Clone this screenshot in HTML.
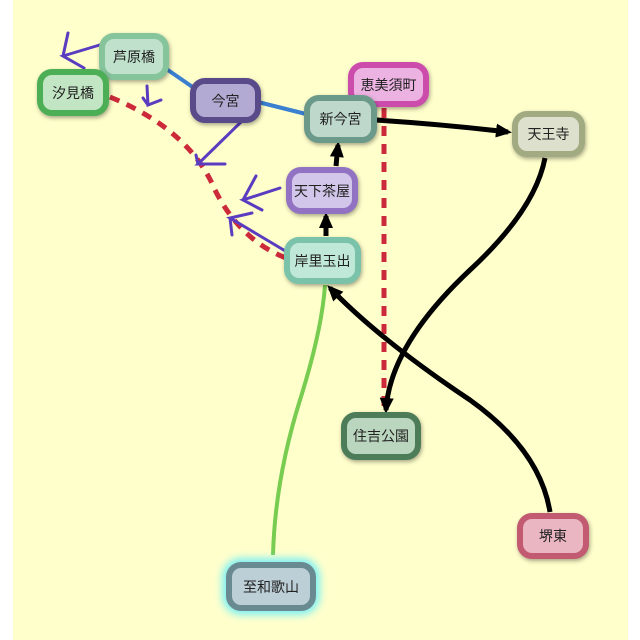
<!DOCTYPE html>
<html><head><meta charset="utf-8"><style>
html,body{margin:0;padding:0;background:#fff;}
#c{position:relative;width:640px;height:640px;overflow:hidden;background:#fff;}
.bg{position:absolute;left:13px;top:0;width:615px;height:640px;background:#ffffcc;}
.n{position:absolute;box-sizing:border-box;border:6px solid;border-radius:15px;display:flex;align-items:center;justify-content:center;font-family:"Liberation Sans","Noto Sans CJK JP",sans-serif;font-size:14px;white-space:nowrap;color:#222;box-shadow:1px 2px 4px rgba(0,0,0,0.35);}
svg{position:absolute;left:0;top:0;}
</style></head><body><div id="c">
<div class="bg"></div>
<svg width="640" height="640">
<defs><marker id="a" markerUnits="userSpaceOnUse" markerWidth="16" markerHeight="16" refX="12" refY="8" orient="auto"><path d="M0,1L16,8L0,15z" fill="#000"/></marker></defs>
<path d="M165,68L194,88" stroke="#3a7fd0" stroke-width="4" fill="none"/>
<path d="M258,102L306,114" stroke="#3a7fd0" stroke-width="4" fill="none"/>
<path d="M384,108L384,410" stroke="#cc2a3a" stroke-width="5" stroke-dasharray="10,8" fill="none"/>
<path d="M110,97Q190,130 215,190Q240,240 286,258" stroke="#cc2a3a" stroke-width="5" stroke-dasharray="10,8" fill="none"/>
<path d="M376,120Q440,124 508,132" stroke="#000" stroke-width="5" fill="none" marker-end="url(#a)"/>
<path d="M545,158Q535,210 470,270Q390,345 386,410" stroke="#000" stroke-width="5" fill="none" marker-end="url(#a)"/>
<path d="M550,512Q540,450 470,400Q380,340 330,288" stroke="#000" stroke-width="5" fill="none" marker-end="url(#a)"/>
<path d="M273,555Q275,480 300,400Q322,330 325,285" stroke="#78cc50" stroke-width="4" fill="none"/>
<path d="M326,236L326,216" stroke="#000" stroke-width="5" fill="none" marker-end="url(#a)"/>
<path d="M336,166L338,145" stroke="#000" stroke-width="5" fill="none" marker-end="url(#a)"/>
<g stroke="#5a3cc0" stroke-width="3" fill="none" stroke-linecap="round">
<path d="M103,44L63,56L84,68M63,56L68,33"/>
<path d="M147,86L148,105L161,100M148,105L143,98"/>
<path d="M241,122L198,164L225,164M198,164L196,155"/>
<path d="M280,188L243,200L262,210M243,200L256,176"/>
<path d="M287,252L230,218L252,213M230,218L232,235"/>
</g>
</svg>
<div class="n" style="left:99px;top:33px;width:70px;height:47px;background:#c0e2cc;border-color:#86c49c;">芦原橋</div>
<div class="n" style="left:37px;top:69px;width:72px;height:47px;background:#c2e6c4;border-color:#4caf55;">汐見橋</div>
<div class="n" style="left:190px;top:78px;width:71px;height:45px;background:#b2aad2;border-color:#594a8a;">今宮</div>
<div class="n" style="left:348px;top:62px;width:81px;height:45px;background:#ecb2e2;border-color:#cc4cac;">恵美須町</div>
<div class="n" style="left:304px;top:95px;width:73px;height:48px;background:#bed8cc;border-color:#6c9a8a;">新今宮</div>
<div class="n" style="left:512px;top:111px;width:73px;height:46px;background:#dde0cc;border-color:#a2aa82;">天王寺</div>
<div class="n" style="left:286px;top:167px;width:72px;height:47px;background:#d2c6ea;border-color:#9272c2;">天下茶屋</div>
<div class="n" style="left:284px;top:237px;width:77px;height:47px;background:#c0e8d8;border-color:#7ac2aa;">岸里玉出</div>
<div class="n" style="left:341px;top:412px;width:80px;height:48px;background:#bad6be;border-color:#4c7c58;">住吉公園</div>
<div class="n" style="left:517px;top:513px;width:72px;height:46px;background:#eab6c2;border-color:#c25a72;">堺東</div>
<div class="n" style="left:226px;top:562px;width:90px;height:49px;background:#bccfd6;border-color:#6a8a92;box-shadow:0 0 8px 4px #7ff0f4;">至和歌山</div>
</div></body></html>
